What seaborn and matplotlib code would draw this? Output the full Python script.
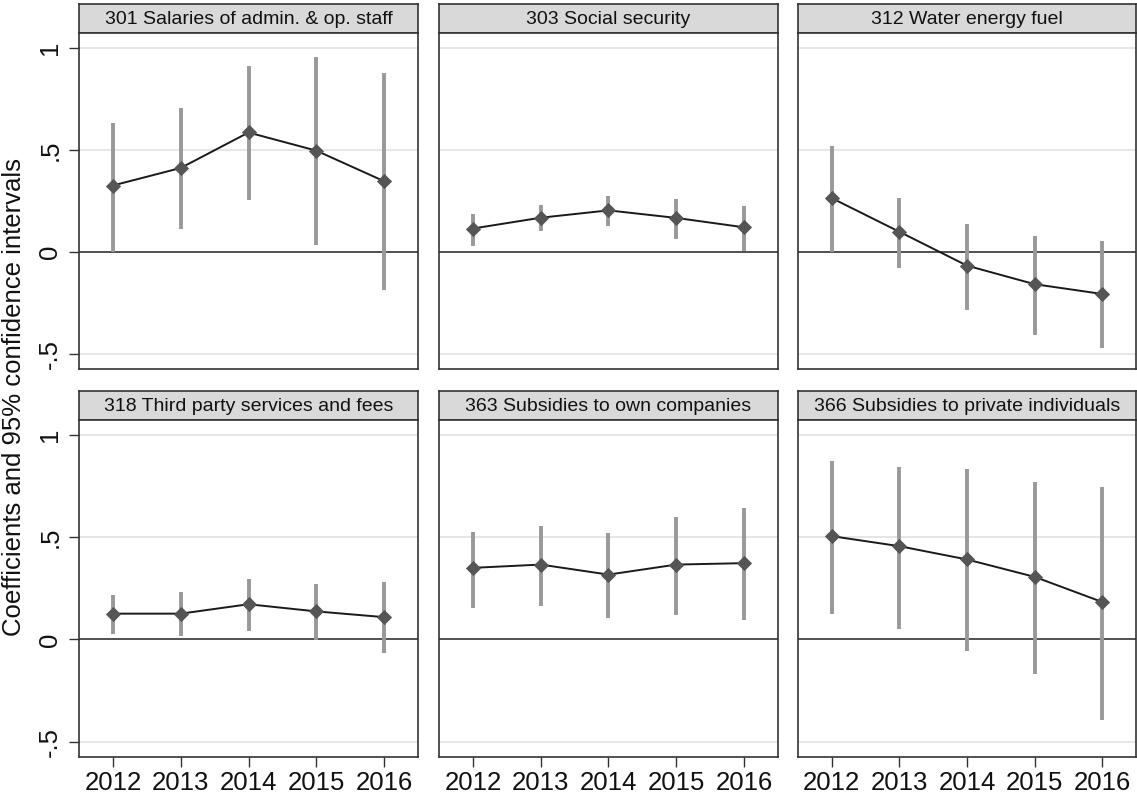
import pandas as pd
import seaborn as sns
import matplotlib.pyplot as plt

# data
years = [2012, 2013, 2014, 2015, 2016]
panel_titles = [
    "301 Salaries of admin. & op. staff",
    "303 Social security",
    "312 Water energy fuel",
    "318 Third party services and fees",
    "363 Subsidies to own companies",
    "366 Subsidies to private individuals",
]

coef_301 = [0.325, 0.411, 0.585, 0.496, 0.346]
lo_301 = [0.0, 0.110, 0.254, 0.033, -0.187]
hi_301 = [0.634, 0.707, 0.910, 0.953, 0.875]

coef_303 = [0.114, 0.167, 0.203, 0.166, 0.120]
lo_303 = [0.029, 0.102, 0.125, 0.065, 0.002]
hi_303 = [0.187, 0.228, 0.273, 0.257, 0.224]

coef_312 = [0.263, 0.098, -0.068, -0.159, -0.207]
lo_312 = [-0.003, -0.078, -0.285, -0.407, -0.472]
hi_312 = [0.520, 0.263, 0.137, 0.075, 0.052]

coef_318 = [0.126, 0.126, 0.172, 0.137, 0.109]
lo_318 = [0.028, 0.016, 0.041, -0.003, -0.067]
hi_318 = [0.216, 0.230, 0.294, 0.270, 0.283]

coef_363 = [0.350, 0.366, 0.317, 0.366, 0.373]
lo_363 = [0.155, 0.162, 0.103, 0.121, 0.093]
hi_363 = [0.526, 0.557, 0.518, 0.600, 0.641]

coef_366 = [0.505, 0.456, 0.391, 0.306, 0.183]
lo_366 = [0.126, 0.052, -0.057, -0.168, -0.394]
hi_366 = [0.873, 0.845, 0.833, 0.768, 0.747]

coefs = [coef_301, coef_303, coef_312, coef_318, coef_363, coef_366]
los = [lo_301, lo_303, lo_312, lo_318, lo_363, lo_366]
his = [hi_301, hi_303, hi_312, hi_318, hi_363, hi_366]

ytick_vals = [-0.5, 0, 0.5, 1]
ytick_labels = ["-.5", "0", ".5", "1"]

# long table
rows = []
for title, c, l, h in zip(panel_titles, coefs, los, his):
    for yr, cc, ll, hh in zip(years, c, l, h):
        rows.append({"panel": title, "year": yr, "coef": cc, "lo": ll, "hi": hh})
df = pd.DataFrame(rows)

# plot esthetics
sns.set_theme(style="white")
plt.rcParams["font.family"] = ["Liberation Sans", "DejaVu Sans"]
edge = "#333333"
W, H = 1137, 794

fig = plt.figure(figsize=(W / 100, H / 100), dpi=100)
fig.patch.set_facecolor("white")

# pixel boxes (left, right) and (strip top, axes top, axes bottom)
col_px = [(79, 418), (439, 778), (798, 1136)]
row_px = [(4, 33, 369), (391, 420, 757)]

def fbox(x0, x1, y0, y1):
    return [x0 / W, 1 - y1 / H, (x1 - x0) / W, (y1 - y0) / H]

for i, title in enumerate(panel_titles):
    r, c = divmod(i, 3)
    x0, x1 = col_px[c]
    s0, a0, a1 = row_px[r]

    # facet strip
    sax = fig.add_axes(fbox(x0, x1, s0, a0))
    sax.set_facecolor("#d9d9d9")
    sax.set_xticks([])
    sax.set_yticks([])
    for sp in sax.spines.values():
        sp.set_color(edge)
        sp.set_linewidth(1.2)
    sax.text(0.5, 0.47, title, ha="center", va="center", fontsize=14,
             color="#111111", transform=sax.transAxes)

    ax = fig.add_axes(fbox(x0, x1, a0, a1))
    sub = df[df["panel"] == title]

    for v in [1, 0.5, -0.5]:
        ax.axhline(v, color="#e4e4e4", lw=1.3, zorder=0)
    ax.axhline(0, color=edge, lw=1.2, zorder=1)

    ax.vlines(sub["year"], sub["lo"], sub["hi"], color="#999999", lw=2.8, zorder=2)
    sns.lineplot(data=sub, x="year", y="coef", color="#1a1a1a", lw=1.4,
                 ax=ax, zorder=3)
    sns.scatterplot(data=sub, x="year", y="coef", marker="D", s=60,
                    color="#555555", linewidth=0, ax=ax, zorder=4)

    ax.set_xlim(2011.5, 2016.5)
    ax.set_ylim(-0.575, 1.073)
    ax.set_xlabel("")
    ax.set_ylabel("")
    for sp in ax.spines.values():
        sp.set_color(edge)
        sp.set_linewidth(1.2)

    ax.set_xticks(years)
    ax.set_yticks(ytick_vals)
    if r == 1:
        ax.set_xticklabels([str(y) for y in years])
        ax.tick_params(axis="x", bottom=True, direction="out", length=7, width=1,
                       color=edge, labelsize=18.5, pad=3, labelcolor="#111111")
    else:
        ax.tick_params(axis="x", bottom=False, labelbottom=False)
    if c == 0:
        ax.set_yticklabels(ytick_labels)
        ax.tick_params(axis="y", left=True, direction="out", length=7, width=1,
                       color=edge, labelsize=18.5, pad=5, labelcolor="#111111")
        for lab in ax.get_yticklabels():
            lab.set_rotation(90)
            lab.set_va("center")
    else:
        ax.tick_params(axis="y", left=False, labelleft=False)

fig.text(0.012, 0.5, "Coefficients and 95% confidence intervals", rotation=90,
         ha="center", va="center", fontsize=18.5, color="#111111")

fig.savefig("out.png", dpi=100, facecolor="white")
